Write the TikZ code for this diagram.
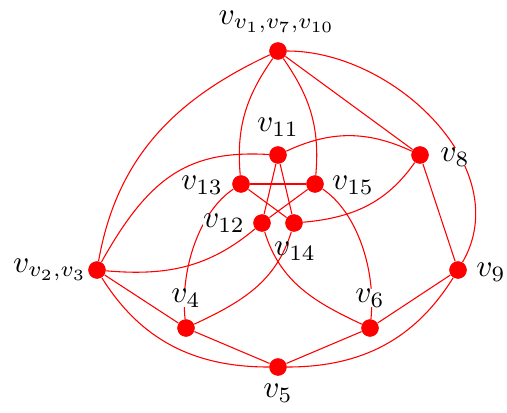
\documentclass[tikz,border=0pt]{standalone}
\begin{document}
\begin{tikzpicture}[x=0.3704pt,y=0.3704pt,
  dot/.style={circle,fill=red,inner sep=0pt,minimum size=6.4pt},
  lab/.style={fill=white,inner sep=0pt,scale=1.16,transform shape},
  edge/.style={draw=red,line width=0.4pt}]
\useasboundingbox (0,0) rectangle (507,412);
\node[dot] (T) at (278,361) {};
\node[dot] (v11) at (278,257) {};
\node[dot] (v8) at (420,257) {};
\node[dot] (v13) at (241,228) {};
\node[dot] (v15) at (315,228) {};
\node[dot] (v12) at (262,189) {};
\node[dot] (v14) at (294,189) {};
\node[dot] (v23) at (97,142) {};
\node[dot] (v9) at (458,142) {};
\node[dot] (v4) at (186,84) {};
\node[dot] (v6) at (370,84) {};
\node[dot] (v5) at (278,45) {};
\draw[edge] (T) to[out=205,in=80] (v23);
\draw[edge] (T) to[out=0,in=60] (v9);
\draw[edge] (T) -- (v8);
\draw[edge] (T) to[out=235,in=95] (v13);
\draw[edge] (T) to[out=-55,in=85] (v15);
\draw[edge] (v11) to[out=25,in=155] (v8);
\draw[edge] (v11) .. controls (190,262) and (150,237) .. (v23);
\draw[edge] (v12) to[out=220,in=-5] (v23);
\draw[edge] (v14) to[out=5,in=235] (v8);
\draw[edge] (v13) .. controls (199,200) and (180,142) .. (v4);
\draw[edge] (v15) .. controls (357,200) and (376,142) .. (v6);
\draw[edge] (v12) to[out=-73,in=155] (v6);
\draw[edge] (v14) to[out=253,in=25] (v4);
\draw[edge] (v23) to[out=-58,in=180] (v5);
\draw[edge] (v9) to[out=238,in=0] (v5);
\draw[edge] (v23) -- (v4);
\draw[edge] (v4) -- (v5);
\draw[edge] (v5) -- (v6);
\draw[edge] (v6) -- (v9);
\draw[edge] (v9) -- (v8);
\draw[edge] (v11) -- (v12);
\draw[edge] (v11) -- (v14);
\draw[edge] (v13) -- (v15);
\draw[edge] (v13) -- (v14);
\draw[edge] (v15) -- (v12);
\foreach \n in {T,v11,v8,v13,v15,v12,v14,v23,v9,v4,v6,v5} \node[dot] at (\n) {};
\node[lab] (lT) at (277,390) {$v_{v_1,v_7,v_{10}}$};
\node[lab] (l11) at (278,285) {$v_{11}$};
\node[lab] (l13) at (202,227) {$v_{13}$};
\node[lab] (l15) at (353,227) {$v_{15}$};
\node[lab] (l12) at (224,189) {$v_{12}$};
\node[lab,fill=none] (l14) at (295,161) {$v_{14}$};
\node[lab] (l23) at (50,142) {$v_{v_2,v_3}$};
\node[lab] (l8) at (455,255) {$v_8$};
\node[lab] (l9) at (491,140) {$v_9$};
\node[lab] (l4) at (186,114) {$v_4$};
\node[lab] (l6) at (370,114) {$v_6$};
\node[lab] (l5) at (278,19) {$v_5$};
\end{tikzpicture}
\end{document}
